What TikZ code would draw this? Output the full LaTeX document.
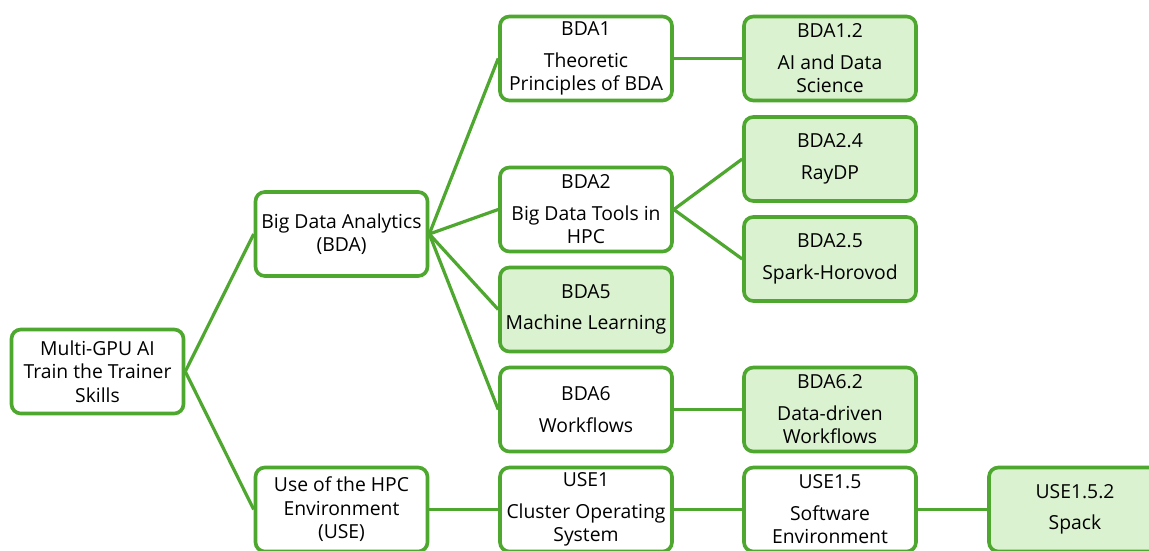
\documentclass[tikz,border=0pt]{standalone}
\usepackage{fontspec}
\setmainfont{Open Sans}
\usepackage{tikz}
\usetikzlibrary{positioning}
\definecolor{leaf}{RGB}{78,167,46}
\definecolor{leaffill}{RGB}{218,242,208}

% code on the first line, topic below it
\newcommand{\topic}[2]{#1\\[6pt]#2}

\begin{document}
\begin{tikzpicture}[x=0.75pt, y=-0.75pt,
    box/.style={draw=leaf, line width=2.7pt, rounded corners=7pt, fill=white,
      minimum width=129pt, minimum height=63pt, inner sep=0pt, align=center,
      font=\fontsize{14.5}{17.6}\selectfont},
    picked/.style={box, fill=leaffill},
    link/.style={draw=leaf, line width=2.4pt}]
    \clip (0,0) rectangle (1149,550);
    \fill[white] (0,0) rectangle (1149,550);

    % Root and the two areas
    \node[box] (root) at (97.5,371.5) {Multi-GPU AI\\Train the Trainer\\Skills};
    \node[box] (bda) at (341.5,234) {Big Data Analytics\\(BDA)};
    \node[box] (use) at (341.5,509.5) {Use of the HPC\\Environment\\(USE)};

    % BDA modules
    \node[box] (bda1) at (586,58.5) {\topic{BDA1}{Theoretic\\Principles of BDA}};
    \node[box] (bda2) at (586,209.5) {\topic{BDA2}{Big Data Tools in\\HPC}};
    \node[picked] (bda5) at (586,309.5) {\topic{BDA5}{Machine Learning}};
    \node[box] (bda6) at (586,409.5) {\topic{BDA6}{Workflows}};

    \node[picked] (bda12) at (830,58.5) {\topic{BDA1.2}{AI and Data\\Science}};
    \node[picked] (bda24) at (830,159) {\topic{BDA2.4}{RayDP}};
    \node[picked] (bda25) at (830,259) {\topic{BDA2.5}{Spark-Horovod}};
    \node[picked] (bda62) at (830,409.5) {\topic{BDA6.2}{Data-driven\\Workflows}};

    % USE modules
    \node[box] (use1) at (586,509.5) {\topic{USE1}{Cluster Operating\\System}};
    \node[box] (use15) at (830,509.5) {\topic{USE1.5}{Software\\Environment}};
    \node[picked] (use152) at (1075,509.5) {\topic{USE1.5.2}{Spack}};

    % Connectors
    \draw[link] (root.east) -- (bda.west);
    \draw[link] (root.east) -- (use.west);
    \foreach \m in {bda1,bda2,bda5,bda6}
        \draw[link] (bda.east) -- (\m.west);
    \draw[link] (bda1.east) -- (bda12.west);
    \draw[link] (bda2.east) -- (bda24.west);
    \draw[link] (bda2.east) -- (bda25.west);
    \draw[link] (bda6.east) -- (bda62.west);
    \draw[link] (use.east) -- (use1.west);
    \draw[link] (use1.east) -- (use15.west);
    \draw[link] (use15.east) -- (use152.west);
\end{tikzpicture}
\end{document}
